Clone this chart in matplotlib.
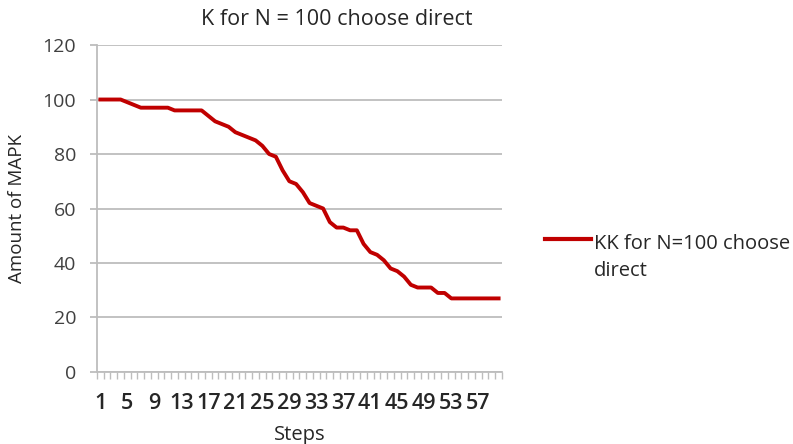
import matplotlib
matplotlib.use("Agg")
import matplotlib.pyplot as plt
import numpy as np

steps = list(range(1, 61))
mapk = [100, 100, 100, 100, 99, 98, 97, 97, 97, 97,
        97, 96, 96, 96, 96, 96, 94, 92, 91, 90,
        88, 87, 86, 85, 83, 80, 79, 74, 70, 69,
        66, 62, 61, 60, 55, 53, 53, 52, 52, 47,
        44, 43, 41, 38, 37, 35, 32, 31, 31, 31,
        29, 29, 27, 27, 27, 27, 27, 27, 27, 27]
label_steps = list(range(1, 61, 4))
series_name = "KK for N=100 choose direct"

plt.rcParams["font.family"] = ["Open Sans", "DejaVu Sans"]
GRID = "#bdbdbd"
TXT = "#262626"

fig = plt.figure(figsize=(7.93, 4.44), dpi=100)
ax = fig.add_axes([0.1223, 0.1622, 0.5107, 0.7364])

ax.plot(steps, mapk, color="#c00000", lw=2.8, solid_joinstyle="round")

ax.set_xlim(0.5, 60.5)
ax.set_ylim(0, 120)
ax.set_yticks(range(0, 121, 20))
ax.yaxis.grid(True, color=GRID, lw=1.3)
ax.set_axisbelow(True)
for s in ["top", "right"]:
    ax.spines[s].set_visible(False)
for s in ["left", "bottom"]:
    ax.spines[s].set_color(GRID)
    ax.spines[s].set_linewidth(1.3)

ax.set_xticks(label_steps)
ax.set_xticklabels([str(s) for s in label_steps], fontweight="semibold")
ax.set_xticks(np.arange(0.5, 61, 1), minor=True)
ax.tick_params(axis="x", which="major", length=0, pad=15, labelsize=15.5, colors=TXT)
ax.tick_params(axis="x", which="minor", length=5, color=GRID, width=1)
ax.tick_params(axis="y", length=5, color=GRID, width=1.3, labelsize=14, colors="#404040", pad=10)

ax.set_xlabel("Steps", fontsize=14.5, color=TXT, labelpad=8)
ax.set_ylabel("Amount of MAPK", fontsize=13.5, color=TXT, labelpad=12)
fig.text(0.425, 0.955, "K for N = 100 choose direct", fontsize=15.5, color=TXT,
         ha="center", va="center")

fig.lines.append(plt.Line2D([0.687, 0.745], [0.461, 0.461], transform=fig.transFigure,
                            color="#c00000", lw=3))
fig.text(0.749, 0.378, "KK for N=100 choose\ndirect", fontsize=14.5, color=TXT,
         va="baseline", ha="left", linespacing=1.45)

fig.savefig("out.png", dpi=100, facecolor="white")
